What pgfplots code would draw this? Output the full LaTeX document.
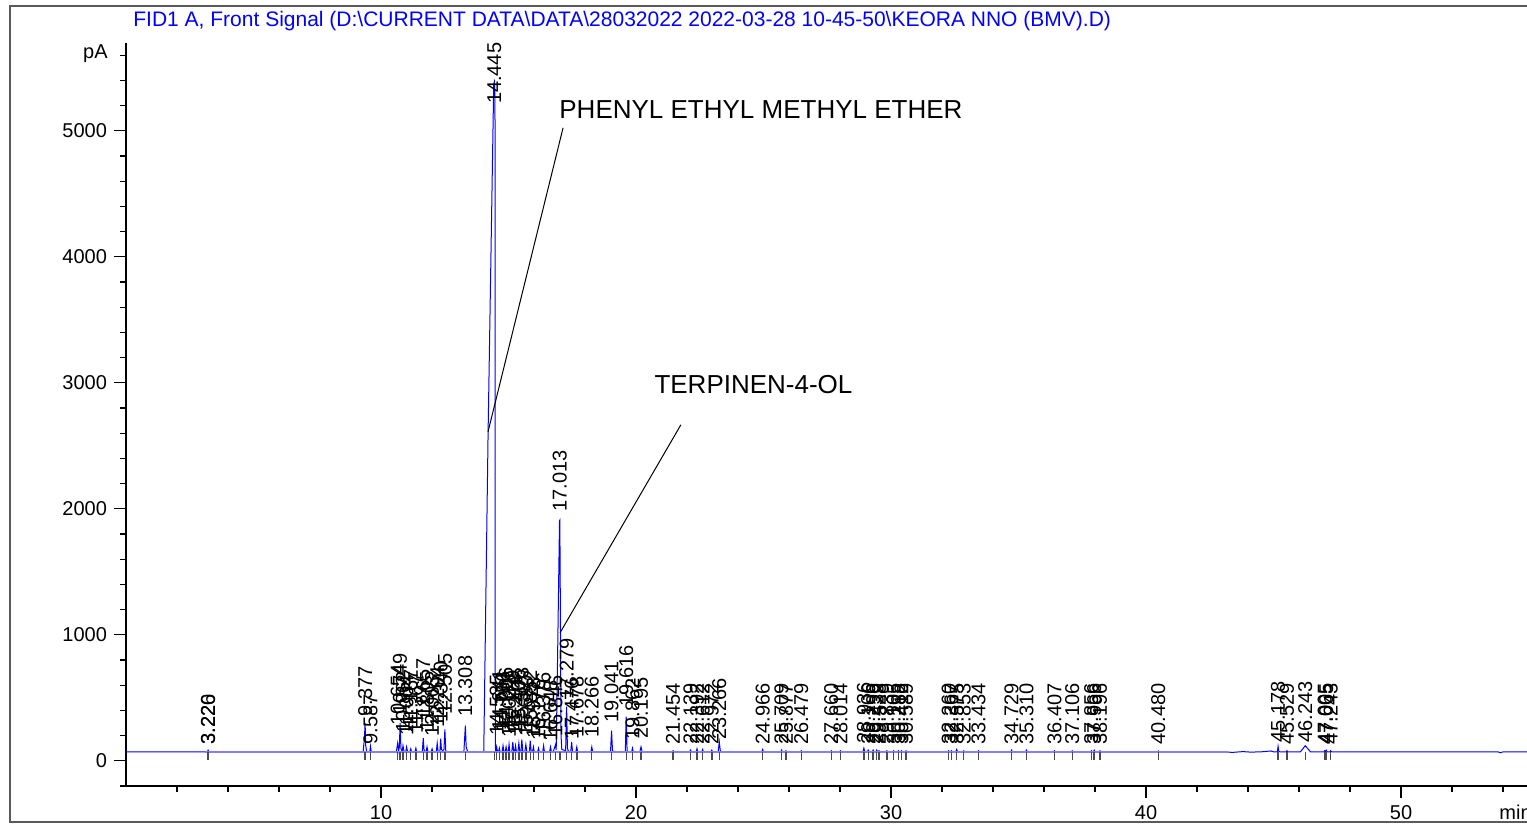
\documentclass[border=0pt]{standalone}
\usepackage{fontspec}
\setmainfont{Liberation Sans}
\usepackage{pgfplots}
\usepackage{pgfplotstable}
\pgfplotsset{compat=1.18}

\definecolor{sigblue}{RGB}{0,0,255}
\definecolor{basecol}{RGB}{128,128,255}
\definecolor{evgray}{RGB}{75,75,75}
\definecolor{framegray}{RGB}{90,90,90}

% peak retention times, label bottom (pA), label text
\pgfplotstableread{
t ly lab
3.220 127 3.220
3.226 127 3.226
9.377 350 9.377
9.587 127 9.587
10.654 280 10.654
10.749 365 10.749
10.862 220 10.862
11.004 200 11.004
11.167 250 11.167
11.367 210 11.367
11.657 340 11.657
11.805 230 11.805
12.003 190 12.003
12.204 260 12.204
12.340 300 12.340
12.505 365 12.505
13.308 345 13.308
14.445 5210 14.445
14.535 200 14.535
14.641 240 14.641
14.786 220 14.786
14.906 250 14.906
15.021 180 15.021
15.169 230 15.169
15.278 200 15.278
15.406 240 15.406
15.523 250 15.523
15.680 190 15.680
15.852 230 15.852
15.978 170 15.978
16.176 160 16.176
16.376 210 16.376
16.648 150 16.648
16.846 190 16.846
17.013 1976 17.013
17.279 485 17.279
17.476 167 17.476
17.678 180 17.678
18.266 183 18.266
19.041 300 19.041
19.616 430 19.616
19.862 167 19.862
20.195 175 20.195
21.454 127 21.454
22.139 127 22.139
22.392 127 22.392
22.612 127 22.612
22.972 127 22.972
23.266 167 23.266
24.966 127 24.966
25.709 127 25.709
25.877 127 25.877
26.479 127 26.479
27.660 127 27.660
28.014 127 28.014
28.936 135 28.936
29.106 127 29.106
29.299 127 29.299
29.439 127 29.439
29.528 127 29.528
29.839 127 29.839
30.105 127 30.105
30.288 127 30.288
30.412 127 30.412
30.589 127 30.589
32.260 127 32.260
32.367 127 32.367
32.575 127 32.575
32.853 127 32.853
33.434 127 33.434
34.729 127 34.729
35.310 127 35.310
36.407 127 36.407
37.106 127 37.106
37.856 127 37.856
37.966 127 37.966
38.196 127 38.196
40.480 127 40.480
45.178 140 45.178
45.529 127 45.529
46.243 140 46.243
47.005 127 47.005
47.065 127 47.065
47.243 127 47.243
}\peaks

\begin{document}
\begin{tikzpicture}
\begin{axis}[
  at={(0pt,0pt)}, anchor=south west,
  width=700.5pt, height=371.5pt, scale only axis,
  xmin=0, xmax=54.94, ymin=-200, ymax=5697,
  axis x line*=bottom, axis y line*=left,
  axis line style={black, line width=0.6pt},
  xtick={10,20,30,40,50}, xticklabels={10,20,30,40,50},
  minor xtick={2,4,...,54},
  ytick={0,1000,2000,3000,4000,5000}, yticklabels={0,1000,2000,3000,4000,5000},
  minor ytick={-200,0,...,5600},
  tick align=outside,
  major tick length=6pt, minor tick length=3pt,
  tick style={black, line width=0.6pt},
  tick label style={font=\fontsize{10}{12}\selectfont},
  /pgf/number format/assume math mode=true,
]

% signal
\addplot[sigblue, line width=0.5pt] coordinates {
(0,71)(3.15,71)(3.19,70)(3.210,80)(3.223,76)(3.226,82)(3.26,70)
(9.30,70)(9.35,180)(9.377,300)(9.40,120)(9.44,72)(9.56,72)(9.587,115)(9.62,70)
(10.60,71)(10.654,140)(10.69,80)(10.72,110)(10.749,300)(10.78,100)(10.83,75)(10.862,120)(10.90,75)
(10.97,72)(11.004,110)(11.04,72)(11.13,71)(11.167,95)(11.20,71)(11.33,71)(11.367,100)(11.40,71)
(11.62,72)(11.657,180)(11.69,80)(11.77,72)(11.805,110)(11.84,71)(11.97,71)(12.003,95)(12.04,71)
(12.17,72)(12.204,140)(12.24,72)(12.31,75)(12.340,175)(12.37,90)(12.42,80)(12.47,90)(12.505,250)(12.54,80)(12.58,71)
(13.25,70)(13.308,280)(13.34,110)(13.40,72)
(13.95,70)(14.03,76)(14.20,2610)(14.42,5370)(14.445,5390)(14.47,5300)(14.475,900)(14.49,90)(14.505,72)
(14.51,72)(14.535,110)(14.57,72)(14.61,72)(14.641,100)(14.67,72)(14.75,72)(14.786,120)(14.82,72)
(14.87,72)(14.906,110)(14.94,72)(14.99,72)(15.021,130)(15.05,72)(15.13,72)(15.169,150)(15.20,80)
(15.24,72)(15.278,120)(15.31,72)(15.37,72)(15.406,140)(15.44,75)(15.49,72)(15.523,170)(15.56,75)
(15.64,72)(15.680,130)(15.72,72)(15.82,72)(15.852,160)(15.89,72)(15.94,72)(15.978,110)(16.01,71)
(16.14,71)(16.176,100)(16.21,71)(16.34,71)(16.376,120)(16.41,71)(16.61,71)(16.648,110)(16.68,71)
(16.75,71)(16.80,100)(16.846,130)(16.87,85)(16.93,900)(17.0,1905)(17.013,1910)(17.04,1000)(17.06,200)(17.09,90)
(17.24,80)(17.279,430)(17.31,100)(17.35,75)
(17.44,72)(17.476,150)(17.51,72)(17.64,72)(17.678,110)(17.71,71)
(18.23,71)(18.266,110)(18.30,71)
(19.00,71)(19.041,240)(19.08,75)(19.58,71)(19.616,350)(19.65,80)(19.70,72)(19.83,71)(19.862,100)(19.89,71)
(20.15,72)(20.195,110)(20.24,72)
(21.42,71)(21.454,80)(21.49,71)
(22.10,71)(22.139,85)(22.17,71)(22.36,71)(22.392,95)(22.42,71)(22.58,71)(22.612,90)(22.64,71)
(22.94,71)(22.972,85)(23.00,71)(23.22,71)(23.266,150)(23.31,72)
(24.93,71)(24.966,90)(25.00,71)(25.68,71)(25.709,85)(25.74,71)(25.85,71)(25.877,80)(25.91,71)
(26.45,71)(26.479,80)(26.51,71)
(27.63,71)(27.660,80)(27.69,71)(27.98,71)(28.014,80)(28.05,71)
(28.90,71)(28.936,100)(28.97,71)(29.07,71)(29.106,85)(29.14,71)(29.27,71)(29.299,85)(29.33,71)
(29.41,71)(29.439,85)(29.47,71)(29.50,71)(29.528,80)(29.56,71)(29.81,71)(29.839,80)(29.87,71)
(30.08,71)(30.105,80)(30.13,71)(30.26,71)(30.288,80)(30.32,71)(30.38,71)(30.412,80)(30.44,71)
(30.56,71)(30.589,80)(30.62,71)
(32.23,71)(32.260,80)(32.29,71)(32.34,71)(32.367,80)(32.40,71)(32.54,71)(32.575,90)(32.61,71)
(32.82,71)(32.853,80)(32.89,71)(33.40,71)(33.434,80)(33.47,71)
(34.70,71)(34.729,85)(34.76,71)(35.28,71)(35.310,85)(35.34,71)(36.38,71)(36.407,80)(36.44,71)
(37.08,71)(37.106,80)(37.14,71)(37.83,71)(37.856,80)(37.89,71)(37.94,71)(37.966,85)(38.00,71)
(38.17,71)(38.196,80)(38.23,71)
(40.45,71)(40.480,78)(40.51,71)
(41.8,71)(42.0,68)(42.3,73)(42.6,70)(43.0,71)(43.4,67)(43.8,73)(44.1,69)(44.5,71)(44.9,78)(45.0,71)
(45.15,71)(45.178,115)(45.21,72)(45.50,71)(45.529,80)(45.56,71)
(46.05,71)(46.15,95)(46.243,120)(46.35,95)(46.45,71)
(46.98,71)(47.005,80)(47.035,75)(47.065,85)(47.10,71)(47.22,71)(47.243,80)(47.28,71)
(53.8,71)(53.9,64)(54.0,71)(54.94,71)
};

% integration baseline
\addplot[basecol, line width=1pt] coordinates {(3.1,71)(43.2,71)};

% event marks
\addplot[only marks, mark=|, mark size=2pt, color=evgray, mark options={line width=0.7pt}]
  table[x=t, y expr=40] {\peaks};

% retention time labels
\addplot[draw=none, mark=none, point meta=explicit symbolic,
  nodes near coords={\pgfplotspointmeta},
  every node near coord/.append style={rotate=90, anchor=west, inner sep=0pt,
    font=\fontsize{10}{12}\selectfont, black}]
  table[x=t, y=ly, meta=lab] {\peaks};

% compound annotations
\draw[black, line width=0.5pt] (axis cs:17.14,5024) -- (axis cs:14.196,2611);
\draw[black, line width=0.5pt] (axis cs:21.76,2667) -- (axis cs:17.02,1016);
\node[anchor=base west, inner sep=0pt, font=\fontsize{13}{15}\selectfont]
  at (axis cs:16.98,5095) {PHENYL ETHYL METHYL ETHER};
\node[anchor=base west, inner sep=0pt, font=\fontsize{13}{15}\selectfont]
  at (axis cs:20.71,2913) {TERPINEN-4-OL};
\end{axis}

\node[anchor=base west, inner sep=0pt, text=sigblue, font=\fontsize{10.5}{12}\selectfont]
  at (3.5pt,379.5pt) {FID1 A, Front Signal (D:\textbackslash{}CURRENT DATA\textbackslash{}DATA\textbackslash{}28032022 2022-03-28 10-45-50\textbackslash{}KEORA NNO (BMV).D)};
\node[anchor=east, inner sep=0pt, font=\fontsize{10}{12}\selectfont] at (-9pt,366pt) {pA};
\node[anchor=base west, inner sep=0pt, font=\fontsize{10}{12}\selectfont] at (686.5pt,-16.5pt) {min};
\draw[framegray, line width=0.7pt] (-58pt,390pt) rectangle (712pt,-18pt);

\pgfresetboundingbox
\useasboundingbox (-63pt,-23pt) rectangle (700.5pt,393pt);
\end{tikzpicture}
\end{document}
